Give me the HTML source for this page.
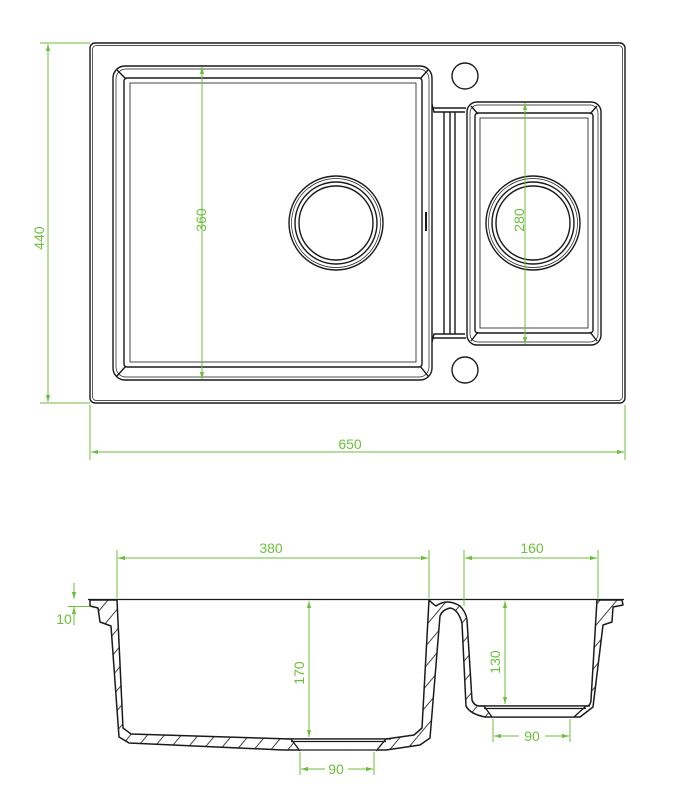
<!DOCTYPE html>
<html><head><meta charset="utf-8"><style>
html,body{margin:0;padding:0;background:#fff;}
svg{display:block;}
text{font-family:"Liberation Sans",sans-serif;fill:#6cbf3c;font-size:14px;}
</style></head><body>
<svg width="679" height="800" viewBox="0 0 679 800" xmlns="http://www.w3.org/2000/svg">
<defs>
<pattern id="h" patternUnits="userSpaceOnUse" width="13" height="13" patternTransform="rotate(40)">
<rect width="13" height="13" fill="#fff"/>
<line x1="0" y1="0" x2="0" y2="13" stroke="#222" stroke-width="1.7"/>
</pattern>
<marker id="a" viewBox="0 0 10 10" refX="10" refY="5" markerWidth="7" markerHeight="7" orient="auto-start-reverse"><path d="M0,2 L10,5 L0,8 Z" fill="#6cbf3c"/></marker>
</defs>

<!-- TOP VIEW -->
<g fill="none" stroke="#1a1a1a" stroke-width="1.4">
<rect x="90" y="43" width="535" height="360" rx="5"/>
<rect x="92.5" y="45.5" width="530" height="355" rx="4" stroke-width="0.7"/>
<rect x="113" y="66" width="319" height="314" rx="12"/>
<rect x="116" y="69" width="313" height="308" rx="10" stroke-width="0.7"/>
<rect x="124" y="78" width="298" height="289" rx="3"/>
<rect x="130" y="83" width="286" height="279" stroke-width="0.8"/>
<line x1="117" y1="70" x2="126" y2="79"/><line x1="428" y1="70" x2="420" y2="79"/>
<line x1="117" y1="376" x2="126" y2="366"/><line x1="428" y1="376" x2="420" y2="366"/>
<rect x="467" y="102" width="134" height="243" rx="10"/>
<rect x="470" y="105" width="128" height="237" rx="8" stroke-width="0.7"/>
<rect x="475" y="113" width="118" height="220" rx="3"/>
<rect x="480" y="118" width="108" height="210" stroke-width="0.8"/>
<line x1="471" y1="106" x2="478" y2="114"/><line x1="597" y1="106" x2="590" y2="114"/>
<line x1="471" y1="341" x2="478" y2="332"/><line x1="597" y1="341" x2="590" y2="332"/>
<path d="M432,104 L434,112 L465,112 M432,108 L466,108"/>
<path d="M432,342 L434,334 L465,334 M432,338 L466,338"/>
<line x1="444" y1="112" x2="444" y2="334"/>
<line x1="450" y1="112" x2="450" y2="334"/>
<line x1="455" y1="112" x2="455" y2="334"/>
<line x1="426" y1="212" x2="426" y2="231" stroke-width="2"/>
<circle cx="336" cy="223" r="47"/><circle cx="336" cy="223" r="44.5" stroke-width="0.7"/>
<circle cx="336" cy="223" r="41"/><circle cx="336" cy="223" r="37"/>
<circle cx="533" cy="223" r="47"/><circle cx="533" cy="223" r="44.5" stroke-width="0.7"/>
<circle cx="533" cy="223" r="41"/><circle cx="533" cy="223" r="37"/>
<circle cx="465" cy="76" r="13"/>
<circle cx="465" cy="370" r="13"/>
</g>

<g stroke="#6cbf3c" stroke-width="1" fill="none">
<line x1="40" y1="43" x2="90" y2="43"/><line x1="40" y1="403" x2="90" y2="403"/>
<line x1="48" y1="44" x2="48" y2="402" marker-start="url(#a)" marker-end="url(#a)"/>
<line x1="90" y1="405" x2="90" y2="460"/><line x1="625" y1="405" x2="625" y2="460"/>
<line x1="91" y1="452" x2="624" y2="452" marker-start="url(#a)" marker-end="url(#a)"/>
<line x1="202" y1="67" x2="202" y2="379" marker-start="url(#a)" marker-end="url(#a)"/>
<line x1="525" y1="103" x2="525" y2="344" marker-start="url(#a)" marker-end="url(#a)"/>
</g>
<text x="48" y="238" text-anchor="middle" transform="rotate(-90 48 238)" dy="-4">440</text>
<text x="350" y="449" text-anchor="middle">650</text>
<text x="202" y="220" text-anchor="middle" transform="rotate(-90 202 220)" dy="4">360</text>
<text x="520" y="220" text-anchor="middle" transform="rotate(-90 520 220)" dy="4">280</text>

<!-- SECTION VIEW -->
<path fill="url(#h)" stroke="#1a1a1a" stroke-width="1.5" stroke-linejoin="round" d="M90,600 L117,600 L123,728 L131,734 L291,739 L386,739 L414,735 L422,728 L429,600 Q433,604 436,606 Q447,598 460,606 Q466,612 467,620 L472,700 Q474,706 480,706 L588,706 Q591,704 591,700 L597,600 L622,600 L623,605 L613,607 L612,622 L603,625 L593,707 L580,717 L485,717 Q470,714 466,706 L462,623 Q458,609 450,608 Q442,610 440,616 L430,738 L420,745 L386,750 L300,750 L283,750 L129,743 L119,737 L111,626 L100,622 L98,608 L90,606 Z"/>
<g stroke="#1a1a1a" stroke-width="1.3" fill="#fff">
<path d="M291,739 L386,739 L376,751 L300,751 Z" stroke="none"/>
<path d="M291,739 L300,751 M386,739 L376,751 M286,739 L391,739 M291,741.5 L386,741.5 M300,750 L376,750" fill="none"/>
<path d="M484,706 L586,706 L574,717 L492,717 Z" stroke="none"/>
<path d="M484,706 L492,717 M586,706 L574,717 M480,706 L590,706 M484,708.5 L586,708.5 M492,717 L574,717" fill="none"/>
</g>
<line x1="88" y1="599.5" x2="624" y2="599.5" stroke="#1a1a1a" stroke-width="1.3"/>

<g stroke="#6cbf3c" stroke-width="1" fill="none">
<line x1="117" y1="550" x2="117" y2="598"/><line x1="429" y1="550" x2="429" y2="598"/>
<line x1="118" y1="558" x2="428" y2="558" marker-start="url(#a)" marker-end="url(#a)"/>
<line x1="464" y1="550" x2="464" y2="606"/><line x1="598" y1="550" x2="598" y2="598"/>
<line x1="465" y1="558" x2="597" y2="558" marker-start="url(#a)" marker-end="url(#a)"/>
<line x1="309" y1="601" x2="309" y2="737" marker-start="url(#a)" marker-end="url(#a)"/>
<line x1="505" y1="601" x2="505" y2="704" marker-start="url(#a)" marker-end="url(#a)"/>
<line x1="74" y1="583" x2="74" y2="599" marker-end="url(#a)"/>
<line x1="74" y1="625" x2="74" y2="607" marker-end="url(#a)"/>
<line x1="68" y1="606.5" x2="90" y2="606.5"/>
<line x1="300" y1="752" x2="300" y2="775"/><line x1="374" y1="752" x2="374" y2="775"/>
<line x1="348" y1="769" x2="373" y2="769" marker-end="url(#a)"/>
<line x1="325" y1="769" x2="301" y2="769" marker-end="url(#a)"/>
<line x1="493" y1="719" x2="493" y2="742"/><line x1="570" y1="719" x2="570" y2="742"/>
<line x1="519" y1="736" x2="494" y2="736" marker-end="url(#a)"/>
<line x1="545" y1="736" x2="569" y2="736" marker-end="url(#a)"/>
</g>
<text x="271" y="553" text-anchor="middle">380</text>
<text x="532" y="553" text-anchor="middle">160</text>
<text x="304" y="673" text-anchor="middle" transform="rotate(-90 304 673)">170</text>
<text x="500" y="662" text-anchor="middle" transform="rotate(-90 500 662)">130</text>
<text x="64" y="624" text-anchor="middle">10</text>
<text x="336" y="774" text-anchor="middle">90</text>
<text x="532" y="741" text-anchor="middle">90</text>
</svg>
</body></html>
